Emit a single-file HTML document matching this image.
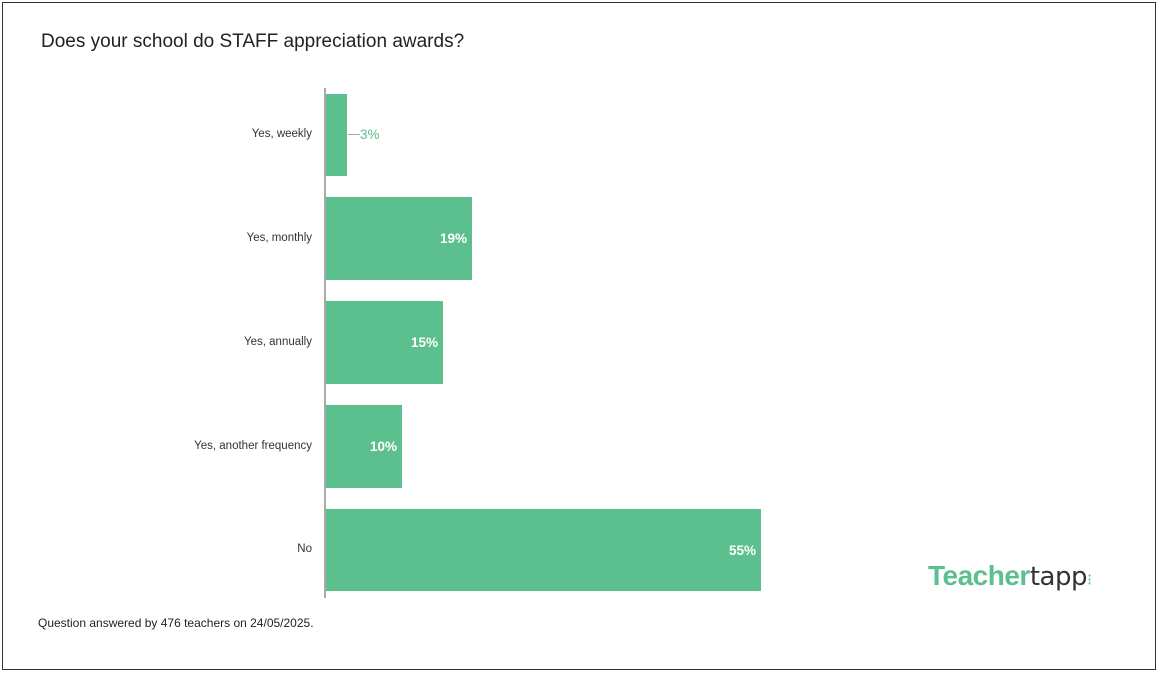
<!DOCTYPE html>
<html><head><style>
body{margin:0;width:1168px;height:676px;background:#fff;font-family:"Liberation Sans",sans-serif;position:relative;overflow:hidden}
.frame{position:absolute;left:2px;top:2px;width:1152px;height:666px;border:1px solid #333}
.t{position:absolute;white-space:nowrap}
.bar{position:absolute;left:326px;background:#5bbf8e}
.lab{position:absolute;right:856px;font-size:11.5px;color:#333;text-align:right}
.v{position:absolute;color:#fff;font-weight:bold;font-size:13.5px}
</style></head><body>
<div class="frame"></div>
<div class="t" style="left:41px;top:31px;font-size:19px;color:#222">Does your school do STAFF appreciation awards?</div>
<div style="position:absolute;left:324px;top:88px;width:2px;height:510px;background:#aaa"></div>
<div class="bar" style="top:94px;width:21px;height:82px"></div>
<div style="position:absolute;left:348px;top:134px;width:12px;height:1px;background:#aaa"></div>
<div class="t" style="left:360px;top:127px;font-size:13.5px;color:#5bbf8e">3%</div>
<div class="bar" style="top:197px;width:146px;height:83px"></div>
<div class="v" style="left:440px;top:231px">19%</div>
<div class="bar" style="top:301px;width:117px;height:83px"></div>
<div class="v" style="left:411px;top:335px">15%</div>
<div class="bar" style="top:405px;width:76px;height:83px"></div>
<div class="v" style="left:370px;top:439px">10%</div>
<div class="bar" style="top:509px;width:435px;height:82px"></div>
<div class="v" style="left:729px;top:543px">55%</div>
<div class="lab" style="top:128px">Yes, weekly</div>
<div class="lab" style="top:232px">Yes, monthly</div>
<div class="lab" style="top:336px">Yes, annually</div>
<div class="lab" style="top:440px">Yes, another frequency</div>
<div class="lab" style="top:543px">No</div>
<div class="t" style="left:38px;top:616px;font-size:12px;color:#222">Question answered by 476 teachers on 24/05/2025.</div>
<div class="t" style="left:928px;top:560px;font-size:28px;font-weight:bold;color:#5bbf8e;letter-spacing:-0.5px">Teacher<span style="color:#333;font-weight:normal;font-family:'DejaVu Sans',sans-serif;font-size:26px">tapp</span><span style="color:#5bbf8e;font-size:16px;font-weight:normal">⁝</span></div>
</body></html>
